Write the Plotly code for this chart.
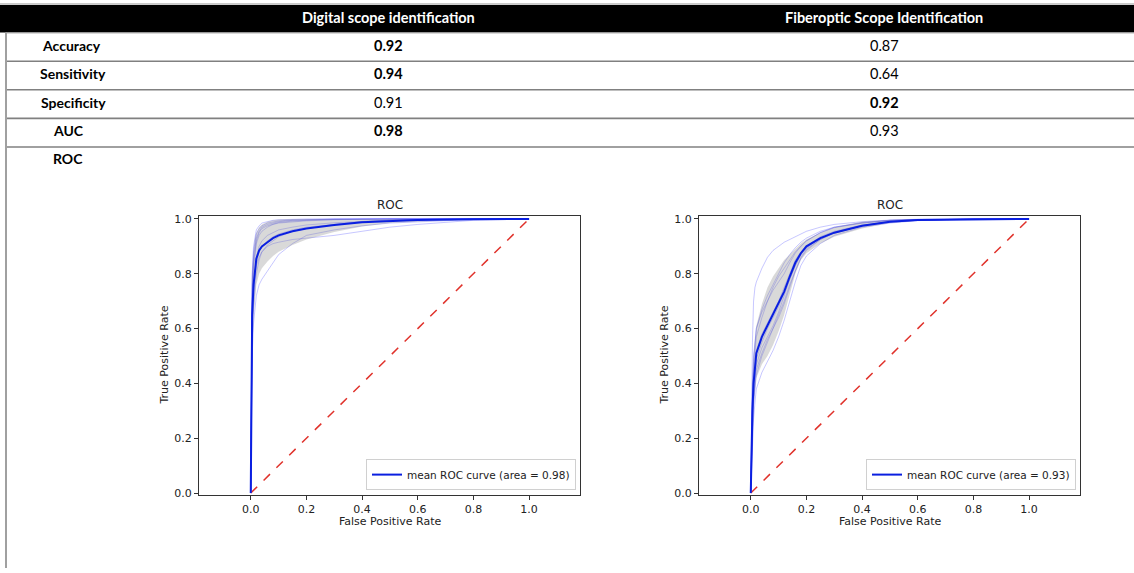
import plotly.graph_objects as go

# ---------------- table data ----------------
METRICS = ["Accuracy", "Sensitivity", "Specificity", "AUC", "ROC"]
COLUMNS = ["Digital scope identification", "Fiberoptic Scope Identification"]
DIGITAL_VALUES = ["0.92", "0.94", "0.91", "0.98"]
DIGITAL_BOLD = [True, True, False, True]
FIBER_VALUES = ["0.87", "0.64", "0.92", "0.93"]
FIBER_BOLD = [False, False, True, False]

# ---------------- ROC data: digital scope ----------------
FPR_D = [0, 0.002, 0.005, 0.01, 0.015, 0.02, 0.03, 0.04, 0.06, 0.08, 0.1, 0.15, 0.2, 0.3, 0.4, 0.5, 0.6, 0.8, 1.0]
MEAN_D = [0, 0.45, 0.65, 0.76, 0.82, 0.855, 0.885, 0.9, 0.915, 0.93, 0.94, 0.955, 0.965, 0.978, 0.988, 0.993, 0.996, 0.999, 1.0]
UPPER_D = [0, 0.6, 0.8, 0.88, 0.93, 0.95, 0.97, 0.98, 0.99, 0.995, 0.998, 1, 1, 1, 1, 1, 1, 1, 1]
LOWER_D = [0, 0.3, 0.5, 0.64, 0.71, 0.76, 0.80, 0.82, 0.845, 0.865, 0.88, 0.905, 0.925, 0.952, 0.972, 0.985, 0.99, 0.998, 1.0]
FOLDS_D = [
    [0, 0.6, 0.8, 0.9, 0.94, 0.96, 0.975, 0.985, 0.99, 0.995, 0.997, 0.999, 1, 1, 1, 1, 1, 1, 1],
    [0, 0.5, 0.7, 0.82, 0.88, 0.91, 0.94, 0.955, 0.97, 0.98, 0.985, 0.99, 0.993, 0.997, 0.999, 1, 1, 1, 1],
    [0, 0.4, 0.6, 0.72, 0.79, 0.84, 0.88, 0.9, 0.92, 0.935, 0.945, 0.96, 0.97, 0.98, 0.99, 0.995, 0.998, 1, 1],
    [0, 0.3, 0.5, 0.62, 0.68, 0.72, 0.76, 0.78, 0.81, 0.84, 0.87, 0.91, 0.94, 0.96, 0.975, 0.985, 0.99, 0.998, 1],
    [0, 0.45, 0.65, 0.75, 0.8, 0.83, 0.86, 0.88, 0.9, 0.91, 0.915, 0.925, 0.93, 0.94, 0.955, 0.97, 0.98, 0.995, 1],
    [0, 0.55, 0.75, 0.86, 0.9, 0.93, 0.955, 0.97, 0.98, 0.985, 0.99, 0.995, 0.997, 0.999, 1, 1, 1, 1, 1],
    [0, 0.35, 0.55, 0.68, 0.75, 0.8, 0.85, 0.88, 0.905, 0.92, 0.935, 0.955, 0.965, 0.98, 0.99, 0.995, 0.998, 1, 1],
    [0, 0.5, 0.72, 0.84, 0.89, 0.92, 0.95, 0.965, 0.975, 0.982, 0.987, 0.992, 0.995, 0.998, 1, 1, 1, 1, 1],
    [0, 0.42, 0.62, 0.74, 0.82, 0.86, 0.9, 0.92, 0.94, 0.95, 0.96, 0.97, 0.978, 0.986, 0.992, 0.996, 0.998, 1, 1],
    [0, 0.58, 0.78, 0.88, 0.92, 0.945, 0.965, 0.975, 0.985, 0.99, 0.993, 0.996, 0.998, 1, 1, 1, 1, 1, 1],
]
AUC_D = "0.98"

# ---------------- ROC data: fiberoptic scope ----------------
FPR_F = [0, 0.003, 0.006, 0.01, 0.015, 0.02, 0.04, 0.06, 0.08, 0.1, 0.12, 0.14, 0.16, 0.18, 0.2, 0.25, 0.3, 0.4, 0.5, 0.6, 0.8, 1.0]
MEAN_F = [0, 0.18, 0.3, 0.4, 0.46, 0.51, 0.57, 0.61, 0.65, 0.69, 0.735, 0.79, 0.84, 0.875, 0.9, 0.93, 0.95, 0.975, 0.99, 0.996, 0.999, 1.0]
UPPER_F = [0, 0.25, 0.4, 0.5, 0.56, 0.61, 0.69, 0.75, 0.79, 0.82, 0.85, 0.87, 0.89, 0.91, 0.925, 0.95, 0.97, 0.99, 0.997, 1, 1, 1]
LOWER_F = [0, 0.11, 0.2, 0.3, 0.37, 0.42, 0.47, 0.5, 0.54, 0.59, 0.65, 0.73, 0.8, 0.85, 0.875, 0.91, 0.935, 0.965, 0.985, 0.993, 0.998, 1.0]
FOLDS_F = [
    [0, 0.3, 0.55, 0.7, 0.75, 0.77, 0.82, 0.86, 0.885, 0.9, 0.915, 0.925, 0.935, 0.945, 0.955, 0.97, 0.98, 0.99, 0.996, 0.999, 1, 1],
    [0, 0.2, 0.33, 0.45, 0.52, 0.57, 0.64, 0.7, 0.75, 0.79, 0.82, 0.85, 0.88, 0.9, 0.92, 0.95, 0.97, 0.985, 0.995, 0.998, 1, 1],
    [0, 0.15, 0.25, 0.35, 0.42, 0.47, 0.53, 0.57, 0.61, 0.66, 0.72, 0.78, 0.83, 0.87, 0.895, 0.93, 0.95, 0.975, 0.99, 0.996, 1, 1],
    [0, 0.1, 0.18, 0.27, 0.33, 0.38, 0.44, 0.48, 0.52, 0.57, 0.63, 0.7, 0.77, 0.83, 0.865, 0.91, 0.94, 0.97, 0.985, 0.994, 0.999, 1],
    [0, 0.18, 0.3, 0.4, 0.47, 0.52, 0.58, 0.62, 0.66, 0.7, 0.75, 0.8, 0.85, 0.88, 0.9, 0.935, 0.955, 0.978, 0.99, 0.996, 1, 1],
    [0, 0.22, 0.36, 0.48, 0.55, 0.6, 0.67, 0.72, 0.76, 0.8, 0.84, 0.87, 0.895, 0.915, 0.93, 0.955, 0.97, 0.987, 0.995, 0.998, 1, 1],
    [0, 0.12, 0.22, 0.32, 0.38, 0.43, 0.5, 0.55, 0.6, 0.65, 0.7, 0.76, 0.81, 0.86, 0.89, 0.925, 0.95, 0.975, 0.99, 0.995, 1, 1],
    [0, 0.16, 0.28, 0.38, 0.44, 0.49, 0.55, 0.6, 0.64, 0.68, 0.73, 0.78, 0.83, 0.87, 0.895, 0.93, 0.952, 0.976, 0.99, 0.996, 1, 1],
    [0, 0.14, 0.24, 0.34, 0.4, 0.45, 0.51, 0.56, 0.6, 0.64, 0.69, 0.75, 0.81, 0.855, 0.885, 0.925, 0.948, 0.974, 0.988, 0.995, 0.999, 1],
    [0, 0.25, 0.4, 0.5, 0.56, 0.6, 0.66, 0.7, 0.74, 0.77, 0.8, 0.84, 0.875, 0.9, 0.92, 0.95, 0.968, 0.985, 0.994, 0.998, 1, 1],
]
AUC_F = "0.93"

DIAG = [0, 1]
TICKS = [0.0, 0.2, 0.4, 0.6, 0.8, 1.0]

# ---------------- layout helpers ----------------
W, H = 1134, 573
def px(x):
    return x / W
def py(y):
    return 1 - y / H

TABLE_FONT = "Lato, 'Open Sans', sans-serif"
PLOT_FONT = "DejaVu Sans, sans-serif"

fig = go.Figure()

panels = [
    dict(fpr=FPR_D, mean=MEAN_D, up=UPPER_D, lo=LOWER_D, folds=FOLDS_D, auc=AUC_D,
         xa="x", ya="y", legend="legend", left=199, right=580),
    dict(fpr=FPR_F, mean=MEAN_F, up=UPPER_F, lo=LOWER_F, folds=FOLDS_F, auc=AUC_F,
         xa="x2", ya="y2", legend="legend2", left=699, right=1080),
]

TOP, BOTTOM = 216, 499

for p in panels:
    for f in p["folds"]:
        fig.add_trace(go.Scatter(x=p["fpr"], y=f, mode="lines", xaxis=p["xa"], yaxis=p["ya"],
                                 line=dict(color="rgba(30,30,255,0.25)", width=1),
                                 showlegend=False, hoverinfo="skip"))
    fig.add_trace(go.Scatter(x=p["fpr"], y=p["lo"], mode="lines", xaxis=p["xa"], yaxis=p["ya"],
                             line=dict(color="rgba(0,0,0,0)", width=0),
                             showlegend=False, hoverinfo="skip"))
    fig.add_trace(go.Scatter(x=p["fpr"], y=p["up"], mode="lines", xaxis=p["xa"], yaxis=p["ya"],
                             line=dict(color="rgba(0,0,0,0)", width=0), fill="tonexty",
                             fillcolor="rgba(128,128,128,0.3)",
                             showlegend=False, hoverinfo="skip"))
    fig.add_trace(go.Scatter(x=DIAG, y=DIAG, mode="lines", xaxis=p["xa"], yaxis=p["ya"],
                             line=dict(color="#e0322b", width=1.5, dash="dash"),
                             showlegend=False, hoverinfo="skip"))
    fig.add_trace(go.Scatter(x=p["fpr"], y=p["mean"], mode="lines", xaxis=p["xa"], yaxis=p["ya"],
                             line=dict(color="#0a1fe0", width=2),
                             name="mean ROC curve (area = %s)" % p["auc"],
                             legend=p["legend"], showlegend=True))

axis_common = dict(showline=True, linecolor="#333333", linewidth=1, mirror=True,
                   ticks="outside", ticklen=4, tickcolor="#333333", tickwidth=1,
                   showgrid=False, zeroline=False, tickvals=TICKS,
                   ticktext=["%.1f" % t for t in TICKS],
                   tickfont=dict(family=PLOT_FONT, size=11, color="#222222"))

legend_common = dict(bgcolor="white", bordercolor="#d0d0d0", borderwidth=1,
                     font=dict(family=PLOT_FONT, size=10.5, color="#222222"),
                     xanchor="right", yanchor="bottom", itemwidth=30,
                     tracegroupgap=0)

layout = dict(
    width=W, height=H, margin=dict(l=0, r=0, t=0, b=0),
    paper_bgcolor="white", plot_bgcolor="white", showlegend=True,
    xaxis=dict(domain=[px(199), px(580)], range=[-0.186, 1.183], anchor="y", **axis_common),
    yaxis=dict(domain=[py(BOTTOM), py(TOP)], range=[-0.0072, 1.0108], anchor="x", **axis_common),
    xaxis2=dict(domain=[px(699), px(1080)], range=[-0.186, 1.183], anchor="y2", **axis_common),
    yaxis2=dict(domain=[py(BOTTOM), py(TOP)], range=[-0.0072, 1.0108], anchor="x2", **axis_common),
    legend=dict(x=px(576), y=py(494), **legend_common),
    legend2=dict(x=px(1076), y=py(494), **legend_common),
)
fig.update_layout(**layout)

shapes = []
# header black band
shapes.append(dict(type="rect", xref="paper", yref="paper", x0=0, x1=1, y0=py(30), y1=py(2),
                   fillcolor="black", line=dict(width=0), layer="below"))
shapes.append(dict(type="line", xref="paper", yref="paper", x0=0, x1=1, y0=py(1), y1=py(1),
                   line=dict(color="#999999", width=1)))
shapes.append(dict(type="line", xref="paper", yref="paper", x0=px(6), x1=1, y0=py(30.5), y1=py(30.5),
                   line=dict(color="#bbbbbb", width=1)))
for yline in [59, 88, 117, 146]:
    shapes.append(dict(type="line", xref="paper", yref="paper", x0=px(6), x1=1, y0=py(yline), y1=py(yline),
                       line=dict(color="#808080", width=1.6)))
shapes.append(dict(type="line", xref="paper", yref="paper", x0=px(6), x1=px(6), y0=0, y1=py(30),
                   line=dict(color="#a0a0a0", width=2)))

annotations = []
# header
for cx, txt in zip([388, 884], COLUMNS):
    annotations.append(dict(text="<b>%s</b>" % txt, x=px(cx), y=py(14.5), xref="paper", yref="paper",
                            showarrow=False, xanchor="center", yanchor="middle",
                            font=dict(family=TABLE_FONT, size=14.5, color="white")))
ROW_Y = [43, 72, 100.5, 129, 158]
ROW_X = [71, 73, 73, 68, 68]
for m, ry, rx in zip(METRICS, ROW_Y, ROW_X):
    annotations.append(dict(text="<b>%s</b>" % m, x=px(rx), y=py(ry), xref="paper", yref="paper",
                            showarrow=False, xanchor="center", yanchor="middle",
                            font=dict(family=TABLE_FONT, size=14, color="black")))
for cx, vals, bolds in [(388, DIGITAL_VALUES, DIGITAL_BOLD), (884, FIBER_VALUES, FIBER_BOLD)]:
    for v, b, ry in zip(vals, bolds, ROW_Y):
        annotations.append(dict(text=("<b>%s</b>" % v) if b else v, x=px(cx), y=py(ry),
                                xref="paper", yref="paper", showarrow=False,
                                xanchor="center", yanchor="middle",
                                font=dict(family=TABLE_FONT, size=14.5, color="black")))

# plot titles and axis labels
for p in panels:
    cx = (p["left"] + p["right"]) / 2
    annotations.append(dict(text="ROC", x=px(cx), y=py(205), xref="paper", yref="paper",
                            showarrow=False, xanchor="center", yanchor="middle",
                            font=dict(family=PLOT_FONT, size=12, color="#222222")))
    annotations.append(dict(text="False Positive Rate", x=px(cx), y=py(526), xref="paper", yref="paper",
                            showarrow=False, xanchor="center", yanchor="middle",
                            font=dict(family=PLOT_FONT, size=11, color="#222222")))
    annotations.append(dict(text="True Positive Rate", x=px(p["left"] - 34), y=py((TOP + BOTTOM) / 2),
                            xref="paper", yref="paper", showarrow=False, textangle=-90,
                            xanchor="center", yanchor="middle",
                            font=dict(family=PLOT_FONT, size=11, color="#222222")))

fig.update_layout(shapes=shapes, annotations=annotations)
fig.write_html("out.html", config={"displayModeBar": False},
               post_script="document.body.style.margin='0';document.body.style.padding='0';"
                           "document.body.style.overflow='hidden';")
